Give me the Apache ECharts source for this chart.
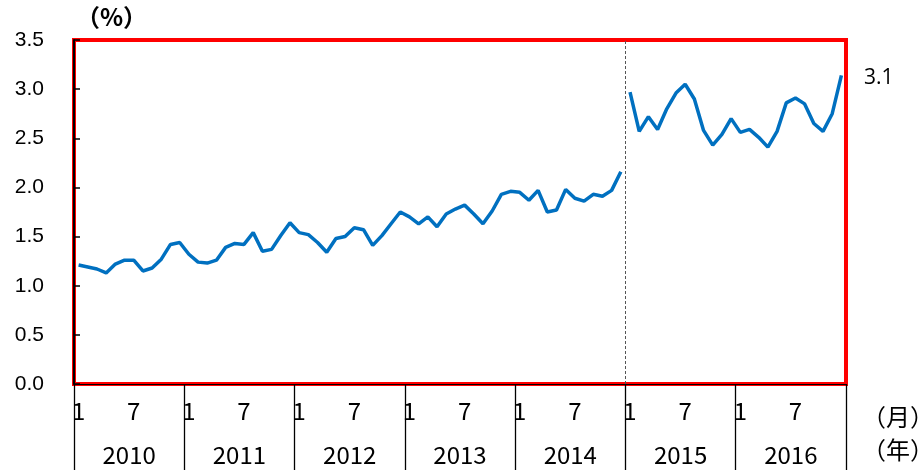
<!DOCTYPE html>
<html><head><meta charset="utf-8">
<script src="https://cdn.jsdelivr.net/npm/echarts@6/dist/echarts.min.js"></script>
<style>html,body{margin:0;padding:0;background:#fff}#c{width:922px;height:470px}</style>
</head><body><div id="c"></div>
<script>
const years = ['2010','2011','2012','2013','2014','2015','2016'];
const monthLabels = ['1','','','','','','7','','','','',''];
const rate2010to2014 = [
 1.21,1.19,1.17,1.13,1.22,1.26,1.26,1.15,1.18,1.27,1.42,1.44,
 1.32,1.24,1.23,1.26,1.39,1.43,1.42,1.54,1.35,1.37,1.51,1.64,
 1.54,1.52,1.44,1.34,1.48,1.50,1.59,1.57,1.41,1.51,1.63,1.75,
 1.70,1.63,1.70,1.60,1.73,1.78,1.82,1.73,1.63,1.76,1.93,1.96,
 1.95,1.87,1.97,1.75,1.77,1.98,1.89,1.86,1.93,1.91,1.97,2.16
];
const rate2015to2016 = [
 2.97,2.57,2.72,2.59,2.80,2.96,3.05,2.90,2.58,2.43,2.54,2.70,
 2.56,2.59,2.51,2.41,2.57,2.86,2.91,2.85,2.65,2.57,2.75,3.14
];
const yTicks = {min:0, max:3.5, interval:0.5};
const breakIndex = rate2010to2014.length;

const categories = [];
years.forEach(y => monthLabels.forEach((m,i) => categories.push(y + '-' + (i+1))));
const nMonths = categories.length;
const seriesA = rate2010to2014.concat(new Array(rate2015to2016.length).fill(null));
const seriesB = new Array(rate2010to2014.length).fill(null).concat(rate2015to2016);
const lastIdx = nMonths - 1;
const lastVal = rate2015to2016[rate2015to2016.length - 1];

const lbl = {fontFamily:'Noto Sans CJK JP', fontSize:24, color:'#000'};
const chart = echarts.init(document.getElementById('c'));
chart.setOption({
  animation:false,
  grid:{left:74, right:76, top:40, bottom:86, show:true, borderColor:'#ff0000', borderWidth:4, backgroundColor:'transparent'},
  xAxis:[
    {type:'category', data:categories, boundaryGap:true,
     axisLine:{show:true, lineStyle:{color:'#000', width:1}}, axisTick:{show:false},
     axisLabel:Object.assign({interval:0, margin:15, formatter:(v,i)=>monthLabels[i%12]}, lbl)},
    {type:'category', data:years, boundaryGap:true, position:'bottom',
     axisLine:{show:false}, axisTick:{show:true, length:86, lineStyle:{color:'#000', width:1.3}},
     axisLabel:Object.assign({margin:59}, lbl)},
    {type:'value', min:0, max:nMonths, show:false}
  ],
  yAxis:{type:'value', min:yTicks.min, max:yTicks.max, interval:yTicks.interval,
    axisLine:{show:true, lineStyle:{color:'#000', width:2}},
    axisTick:{show:true, inside:true, length:6, lineStyle:{color:'#000', width:1.5}},
    splitLine:{show:false},
    axisLabel:{formatter:v=>v.toFixed(1), fontFamily:'Liberation Sans', fontSize:21, color:'#000', margin:30}},
  series:[
    {type:'line', data:seriesA, xAxisIndex:0, symbol:'none', lineStyle:{color:'#0070C0', width:3.5}, z:3},
    {type:'line', data:seriesB, xAxisIndex:0, symbol:'none', lineStyle:{color:'#0070C0', width:3.5}, z:3,
     markPoint:{symbol:'circle', symbolSize:1, itemStyle:{color:'rgba(0,0,0,0)'}, silent:true,
       label:{show:true, position:'right', distance:22, offset:[0,3], formatter:p=>p.value.toFixed(1),
         fontFamily:'Open Sans', fontSize:21, color:'#000'},
       data:[{coord:[categories[lastIdx], lastVal], value:lastVal}]}},
    {type:'line', data:[], xAxisIndex:2, markLine:{silent:true, symbol:'none', label:{show:false},
      lineStyle:{type:[3,2], color:'#555', width:1}, data:[{xAxis:breakIndex}]}}
  ],
  graphic:[
    {type:'text', left:76, top:5, style:{text:'（%）', font:'bold 24px "Noto Sans CJK JP"', fill:'#000'}},
    {type:'text', left:862, top:405, style:{text:'（月）', font:'24px "Noto Sans CJK JP"', fill:'#000'}},
    {type:'text', left:862, top:438, style:{text:'（年）', font:'24px "Noto Sans CJK JP"', fill:'#000'}}
  ]
});
</script></body></html>
